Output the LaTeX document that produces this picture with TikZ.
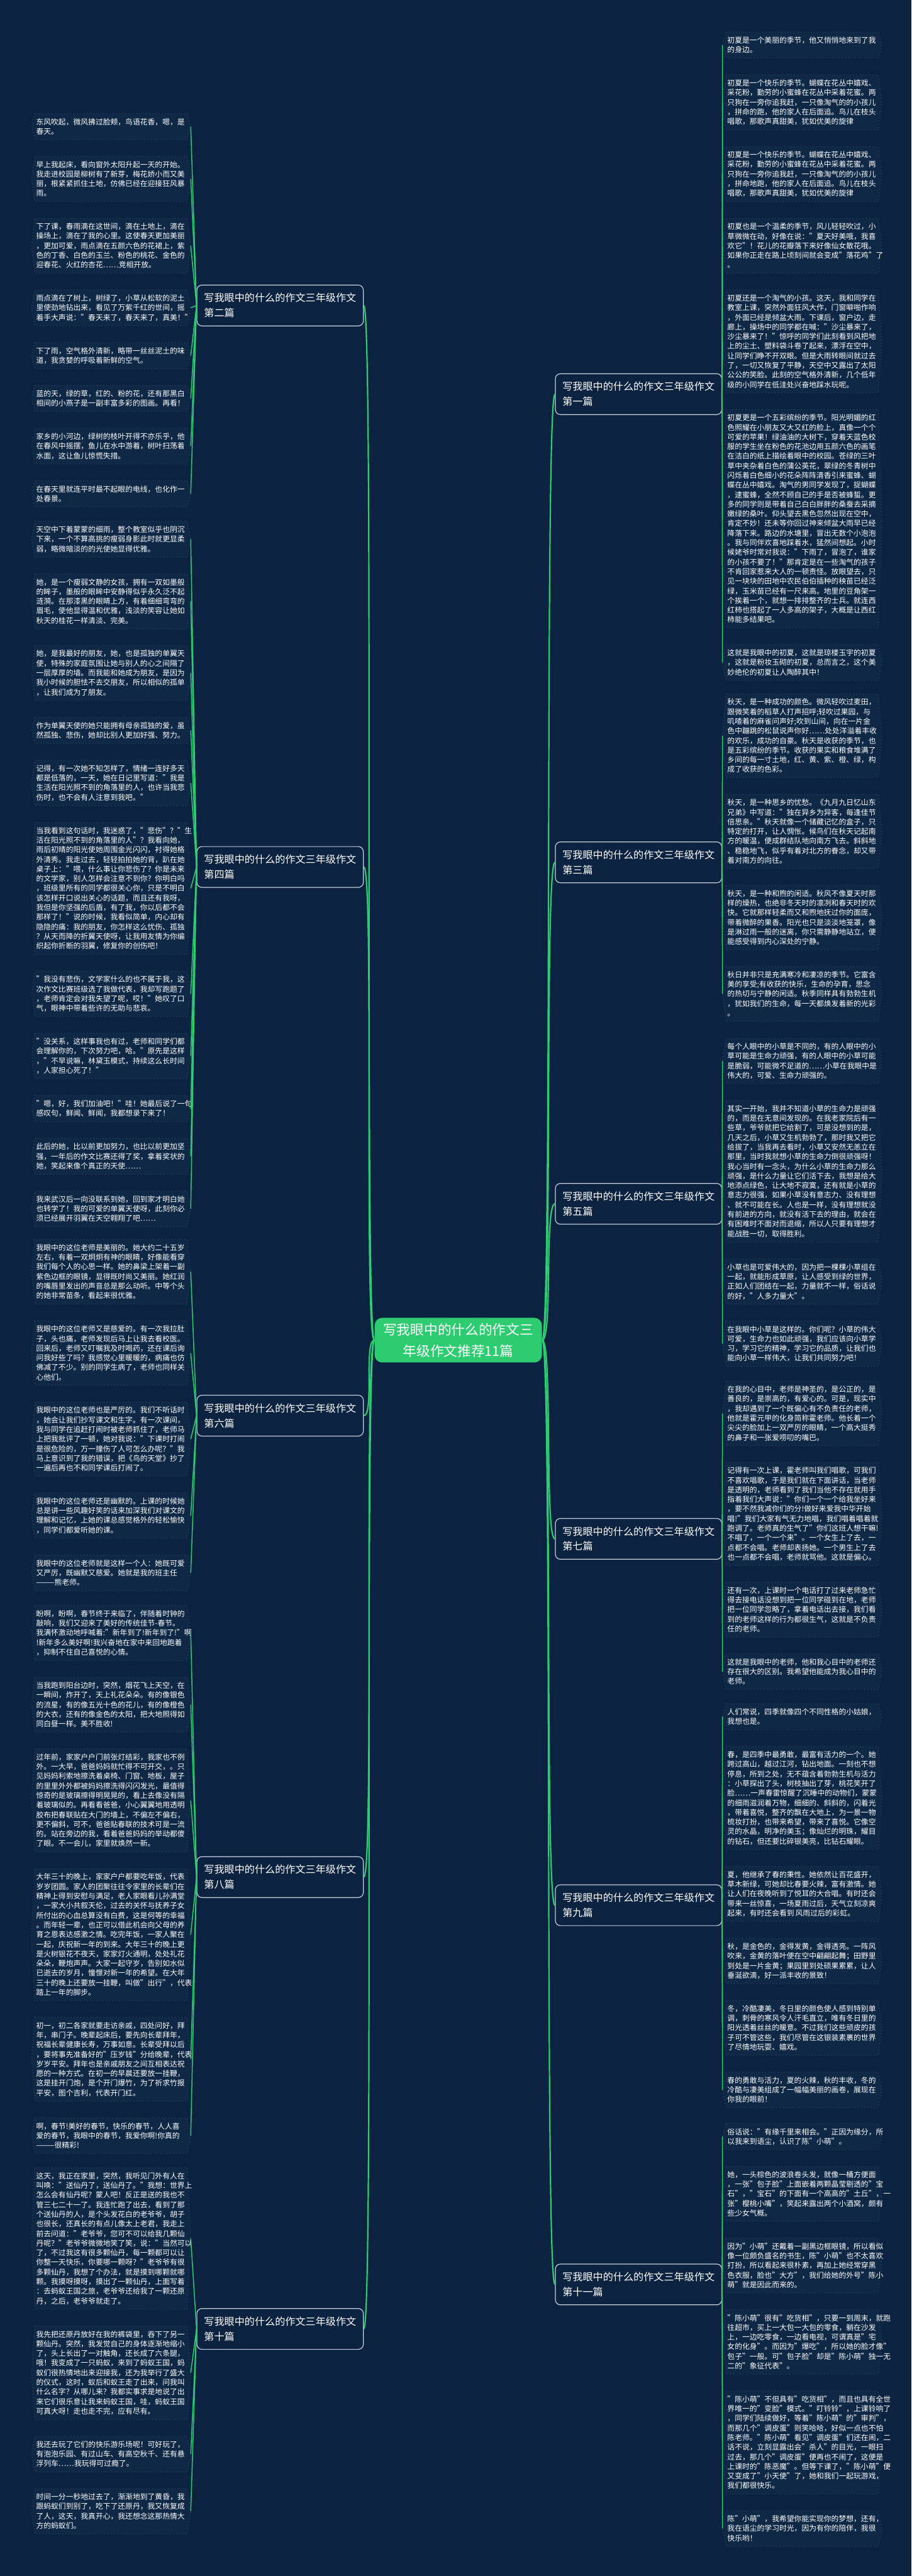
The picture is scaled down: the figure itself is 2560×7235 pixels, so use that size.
\documentclass[tikz,border=0pt]{standalone}
\usepackage{fontspec}
\setmainfont{Noto Sans CJK SC}
\usetikzlibrary{positioning, backgrounds}
\definecolor{bgcol}{HTML}{0B2341}
\definecolor{leafcol}{HTML}{0E2846}
\definecolor{edgecol}{HTML}{34475F}
\definecolor{linkcol}{HTML}{2ECC71}
\definecolor{rootcol}{HTML}{2ECC71}
\definecolor{framecol}{HTML}{C5CFDB}
\newcommand{\leaffont}{\fontsize{5.93pt}{7.68pt}\selectfont}
\newcommand{\branchfont}{\fontsize{8.1pt}{12pt}\selectfont}
\newcommand{\rootfont}{\fontsize{10.9pt}{17pt}\selectfont}

\begin{document}
\begin{tikzpicture}[
    x=0.01cm, y=-0.01cm,
    node distance=0.47cm,
    leaf/.style={
        font=\leaffont, text=white, text width=4.2cm, align=left,
        inner xsep=0.03cm, inner ysep=3.6pt
    },
    branch/.style={
        draw=framecol, fill=bgcol, rounded corners=4pt, line width=0.6pt,
        font=\branchfont, text=white, align=left, inner xsep=0.2cm, inner ysep=0.23cm
    },
    root/.style={
        fill=rootcol, rounded corners=6pt, font=\rootfont, text=white,
        align=center, inner xsep=0.24cm, inner ysep=0.15cm
    },
    twig/.style={draw=linkcol, line width=0.75pt},
    trunk/.style={draw=linkcol, line width=1.1pt},
    frame/.style={fill=leafcol, draw=edgecol, dotted, line width=0.6pt},
]
\useasboundingbox (0,0) rectangle (2560,7235);

% ── Centre and branches ──
\node[root] (root) at (1287,3764) {写我眼中的什么的作文三\\年级作文推荐11篇};

\node[branch, anchor=west] (b2)  at (552,858)  {写我眼中的什么的作文三年级作文\\第二篇};
\node[branch, anchor=west] (b4)  at (552,2435) {写我眼中的什么的作文三年级作文\\第四篇};
\node[branch, anchor=west] (b6)  at (552,3976) {写我眼中的什么的作文三年级作文\\第六篇};
\node[branch, anchor=west] (b8)  at (552,5272) {写我眼中的什么的作文三年级作文\\第八篇};
\node[branch, anchor=west] (b10) at (552,6541) {写我眼中的什么的作文三年级作文\\第十篇};

\node[branch, anchor=east] (b1)  at (2028,1107) {写我眼中的什么的作文三年级作文\\第一篇};
\node[branch, anchor=east] (b3)  at (2028,2422) {写我眼中的什么的作文三年级作文\\第三篇};
\node[branch, anchor=east] (b5)  at (2028,3381) {写我眼中的什么的作文三年级作文\\第五篇};
\node[branch, anchor=east] (b7)  at (2028,4322) {写我眼中的什么的作文三年级作文\\第七篇};
\node[branch, anchor=east] (b9)  at (2028,5351) {写我眼中的什么的作文三年级作文\\第九篇};
\node[branch, anchor=east] (b11) at (2028,6416) {写我眼中的什么的作文三年级作文\\第十一篇};

% ── Left leaves: 第二篇 ──
\node[leaf, anchor=north west] (l1) at (98,319)
    {东风吹起，微风拂过脸颊，鸟语花香，嗯，是\\春天。};
\node[leaf, below=of l1] (l2)
    {早上我起床，看向窗外太阳升起一天的开始。\\我走进校园是柳树有了新芽，梅花娇小而又美\\丽，根紧紧抓住土地，仿佛已经在迎接狂风暴\\雨。};
\node[leaf, below=of l2] (l3)
    {下了课，春雨滴在这世间，滴在土地上，滴在\\操场上，滴在了我的心里。这使春天更加美丽\\，更加可爱，雨点滴在五颜六色的花裙上，紫\\色的丁香、白色的玉兰、粉色的桃花、金色的\\迎春花、火红的杏花……竞相开放。};
\node[leaf, below=of l3] (l4)
    {雨点滴在了树上，树绿了，小草从松软的泥土\\里使劲地钻出来，看见了万紫千红的世间，摇\\着手大声说："春天来了，春天来了，真美！"};
\node[leaf, below=of l4] (l5)
    {下了雨，空气格外清新，略带一丝丝泥土的味\\道，我贪婪的呼吸着新鲜的空气。};
\node[leaf, below=of l5] (l6)
    {蓝的天，绿的草，红的、粉的花，还有那黑白\\相间的小燕子是一副丰富多彩的图画。再看！};
\node[leaf, below=of l6] (l7)
    {家乡的小河边，绿树的枝叶开得不亦乐乎，他\\在春风中摇摆，鱼儿在水中游着，树叶扫荡着\\水面，这让鱼儿惊慌失措。};
\node[leaf, below=of l7] (l8)
    {在春天里就连平时最不起眼的电线，也化作一\\处春景。};

% ── Left leaves: 第四篇 ──
\node[leaf, anchor=north west] (l9) at (98,1464)
    {天空中下着蒙蒙的细雨，整个教室似乎也阴沉\\下来，一个不算高挑的瘦弱身影此时就更显柔\\弱，略微暗淡的的光使她显得优雅。};
\node[leaf, below=of l9] (l10)
    {她，是一个瘦弱文静的女孩，拥有一双如墨般\\的眸子，墨般的眼眸中安静得似乎永久泛不起\\涟漪。在那漆黑的眼睛上方，有着细细弯弯的\\眉毛，使他显得温和优雅，浅淡的笑容让她如\\秋天的桂花一样清淡、完美。};
\node[leaf, below=of l10] (l11)
    {她，是我最好的朋友，她，也是孤独的单翼天\\使，特殊的家庭氛围让她与别人的心之间隔了\\一层厚厚的墙。而我能和她成为朋友，是因为\\我小时候的胆怯不去交朋友，所以相似的孤单\\，让我们成为了朋友。};
\node[leaf, below=of l11] (l12)
    {作为单翼天使的她只能拥有母亲孤独的爱，虽\\然孤独、悲伤，她却比别人更加好强、努力。};
\node[leaf, below=of l12] (l13)
    {记得，有一次她不知怎样了，情绪一连好多天\\都是低落的，一天，她在日记里写道："我是\\生活在阳光照不到的角落里的人，也许当我悲\\伤时，也不会有人注意到我吧。"};
\node[leaf, below=of l13] (l14)
    {当我看到这句话时，我迷惑了，"悲伤"？"生\\活在阳光照不到的角落里的人"？我看向她，\\雨后初晴的阳光使她周围金光闪闪，衬得她格\\外清秀。我走过去，轻轻拍拍她的背，趴在她\\桌子上："喂，什么事让你悲伤了？你是未来\\的文学家，别人怎样会注意不到你？你明白吗\\，班级里所有的同学都很关心你，只是不明白\\该怎样开口说出关心的话题，而且还有我呀，\\我但是你坚强的后盾，有了我，你以后都不会\\那样了！"说的时候，我看似简单，内心却有\\隐隐的痛：我的朋友，你怎样这么忧伤、孤独\\？从天而降的折翼天使呀，让我用友情为你编\\织起你折断的羽翼，修复你的创伤吧！};
\node[leaf, below=of l14] (l15)
    {"我没有悲伤，文学家什么的也不属于我，这\\次作文比赛班级选了我做代表，我却写跑题了\\，老师肯定会对我失望了呢，哎！"她叹了口\\气，眼神中带着些许的无助与悲哀。};
\node[leaf, below=of l15] (l16)
    {"没关系，这样事我也有过，老师和同学们都\\会理解你的，下次努力吧，哈。"原先是这样\\，"不早说嘛，林黛玉模式，持续这么长时间\\，人家担心死了！"};
\node[leaf, below=of l16] (l17)
    {"嗯，好，我们加油吧！"哇！她最后说了一句\\感叹句，鲜闻、鲜闻，我都想录下来了！};
\node[leaf, below=of l17] (l18)
    {此后的她，比以前更加努力，也比以前更加坚\\强，一年后的作文比赛还得了奖，拿着奖状的\\她，笑起来像个真正的天使……};
\node[leaf, below=of l18] (l19)
    {我来武汉后一向没联系到她，回到家才明白她\\也转学了！我的可爱的单翼天使呀，此刻你必\\须已经展开羽翼在天空翱翔了吧……};

% ── Left leaves: 第六篇 ──
\node[leaf, anchor=north west] (l20) at (98,3481)
    {我眼中的这位老师是美丽的。她大约二十五岁\\左右，有着一双炯炯有神的眼睛，好像能看穿\\我们每个人的心思一样。她的鼻梁上架着一副\\紫色边框的眼镜，显得既时尚又美丽。她红润\\的嘴唇里发出的声音总是那么动听。中等个头\\的她非常苗条，看起来很优雅。};
\node[leaf, below=of l20] (l21)
    {我眼中的这位老师又是慈爱的。有一次我拉肚\\子，头也痛，老师发现后马上让我去看校医。\\回来后，老师又叮嘱我及时喝药，还在课后询\\问我好些了吗？我感觉心里暖暖的，病痛也仿\\佛减了不少。别的同学生病了，老师也同样关\\心他们。};
\node[leaf, below=of l21] (l22)
    {我眼中的这位老师也是严厉的。我们不听话时\\，她会让我们抄写课文和生字。有一次课间，\\我与同学在追赶打闹时被老师抓住了，老师马\\上把我批评了一顿，她对我说："下课时打闹\\是很危险的，万一撞伤了人可怎么办呢？"我\\马上意识到了我的错误，把《鸟的天堂》抄了\\一遍后再也不和同学课后打闹了。};
\node[leaf, below=of l22] (l23)
    {我眼中的这位老师还是幽默的。上课的时候她\\总是讲一些风趣好笑的话来加深我们对课文的\\理解和记忆，上她的课总感觉格外的轻松愉快\\，同学们都爱听她的课。};
\node[leaf, below=of l23] (l24)
    {我眼中的这位老师就是这样一个人：她既可爱\\又严厉，既幽默又慈爱。她就是我的班主任\\———熊老师。};

% ── Left leaves: 第八篇 ──
\node[leaf, anchor=north west] (l25) at (98,4509)
    {盼啊，盼啊，春节终于来临了，伴随着时钟的\\敲响，我们又迎来了美好的传统佳节-春节。\\我满怀激动地呼喊着:"新年到了!新年到了!"啊\\!新年多么美好啊!我兴奋地在家中来回地跑着\\，抑制不住自己喜悦的心情。};
\node[leaf, below=of l25] (l26)
    {当我跑到阳台边时，突然，烟花飞上天空，在\\一瞬间，炸开了，天上礼花朵朵。有的像银色\\的流星，有的像五光十色的花儿，有的像橙色\\的大衣，还有的像金色的太阳，把大地照得如\\同白昼一样。美不胜收!};
\node[leaf, below=of l26] (l27)
    {过年前，家家户户门前张灯结彩，我家也不例\\外。一大早，爸爸妈妈就忙得不可开交，。只\\见妈妈利索地擦洗着桌椅、门窗、地板，屋子\\的里里外外都被妈妈擦洗得闪闪发光，最值得\\惊奇的是玻璃擦得明晃晃的，看上去像没有隔\\着玻璃似的。再看看爸爸，小心翼翼地用透明\\胶布把春联贴在大门的墙上，不偏左不偏右，\\更不偏斜，可不，爸爸贴春联的技术可是一流\\的。站在旁边的我，看着爸爸妈妈的举动都傻\\了眼。不一会儿，家里就焕然一新。};
\node[leaf, below=of l27] (l28)
    {大年三十的晚上，家家户户都要吃年饭，代表\\岁岁团圆。家人的团聚往往令家里的长辈们在\\精神上得到安慰与满足，老人家眼看儿孙满堂\\，一家大小共叙天伦，过去的关怀与抚养子女\\所付出的心血总算没有白费，这是何等的幸福\\。而年轻一辈，也正可以借此机会向父母的养\\育之恩表达感激之情。吃完年饭，一家人聚在\\一起，庆祝新一年的到来。大年三十的晚上更\\是火树银花不夜天，家家灯火通明，处处礼花\\朵朵，鞭炮声声。大家一起守岁，告别如水似\\已逝去的岁月，憧憬对新一年的希望。在大年\\三十的晚上还要放一挂鞭，叫做"出行"，代表\\踏上一年的脚步。};
\node[leaf, below=of l28] (l29)
    {初一，初二各家就要走访亲戚，四处问好，拜\\年，串门子。晚辈起床后，要先向长辈拜年，\\祝福长辈健康长寿，万事如意。长辈受拜以后\\，要将事先准备好的"压岁钱"分给晚辈，代表\\岁岁平安。拜年也是亲戚朋友之间互相表达祝\\愿的一种方式。在初一的早晨还要放一挂鞭，\\这是挂开门炮，是个开门爆竹，为了祈求竹报\\平安，图个吉利，代表开门红。};
\node[leaf, below=of l29] (l30)
    {啊，春节!美好的春节，快乐的春节，人人喜\\爱的春节，我眼中的春节，我爱你啊!你真的\\———很精彩!};

% ── Left leaves: 第十篇 ──
\node[leaf, anchor=north west] (l31) at (98,6088)
    {这天，我正在家里，突然，我听见门外有人在\\叫唤："送仙丹了，送仙丹了。"我想：世界上\\怎么会有仙丹呢？蒙人吧！反正是送的我也不\\管三七二十一了。我连忙跑了出去，看到了那\\个送仙丹的人，是个头发花白的老爷爷，胡子\\也很长，还真长的有点儿像太上老君，我走上\\前去问道："老爷爷，您可不可以给我几颗仙\\丹呢？"老爷爷微微地笑了笑，说："当然可以\\了，不过我这有很多颗仙丹，每一颗都可以让\\你整一天快乐，你要哪一颗呀？"老爷爷有很\\多颗仙丹，我想了个办法，就是摸到哪颗就哪\\颗。我摸呀摸呀，摸出了一颗仙丹，上面写着\\：去蚂蚁王国之旅，老爷爷还给我了一颗还原\\丹，之后，老爷爷就走了。};
\node[leaf, below=of l31] (l32)
    {我先把还原丹放好在我的裤袋里，吞下了另一\\颗仙丹。突然，我发觉自己的身体逐渐地缩小\\了，头上长出了一对触角，还长成了六条腿，\\哦！我变成了一只蚂蚁，来到了蚂蚁王国，蚂\\蚁们很热情地出来迎接我，还为我举行了盛大\\的仪式，这时，蚁后和蚁王走了出来，问我叫\\什么名字？从哪儿来？我都实事求是地说了出\\来它们很乐意让我来蚂蚁王国，哇，蚂蚁王国\\可真大呀！走也走不完，应有尽有。};
\node[leaf, below=of l32] (l33)
    {我还去玩了它们的快乐游乐场呢！可好玩了，\\有泡泡乐园、有过山车、有高空秋千、还有悬\\浮列车……我玩得可过瘾了。};
\node[leaf, below=of l33] (l34)
    {时间一分一秒地过去了，渐渐地到了黄昏，我\\跟蚂蚁们到别了，吃下了还原丹，我又恢复成\\了人，这天，我真开心，我还想念这那热情大\\方的蚂蚁们。};

% ── Right leaves: 第一篇 ──
\node[leaf, anchor=north west] (r1) at (2039,90)
    {初夏是一个美丽的季节，他又悄悄地来到了我\\的身边。};
\node[leaf, below=of r1] (r2)
    {初夏是一个快乐的季节。蝴蝶在花丛中嬉戏、\\采花粉，勤劳的小蜜蜂在花丛中采着花蜜。两\\只狗在一旁你追我赶，一只像淘气的的小孩儿\\，拼命的跑，他的家人在后面追。鸟儿在枝头\\唱歌，那歌声真甜美，犹如优美的旋律};
\node[leaf, below=of r2] (r3)
    {初夏是一个快乐的季节。蝴蝶在花丛中嬉戏、\\采花粉，勤劳的小蜜蜂在花丛中采着花蜜。两\\只狗在一旁你追我赶，一只像淘气的的小孩儿\\，拼命地跑，他的家人在后面追。鸟儿在枝头\\唱歌，那歌声真甜美，犹如优美的旋律};
\node[leaf, below=of r3] (r4)
    {初夏也是一个温柔的季节，风儿轻轻吹过，小\\草微微在动，好像在说："夏天好美哦，我喜\\欢它"！花儿的花瓣落下来好像仙女散花哦。\\如果你正走在路上顷刻间就会变成"落花鸡"了\\。};
\node[leaf, below=of r4] (r5)
    {初夏还是一个淘气的小孩。这天，我和同学在\\教室上课，突然外面狂风大作，门窗噼啪作响\\，外面已经是倾盆大雨。下课后，窗户边，走\\廊上，操场中的同学都在喊："沙尘暴来了，\\沙尘暴来了！"惊呼的同学们此刻看到风把地\\上的尘土、塑料袋斗卷了起来，漂浮在空中，\\让同学们睁不开双眼。但是大雨转眼间就过去\\了，一切又恢复了平静，天空中又露出了太阳\\公公的笑脸。此刻的空气格外清新，几个低年\\级的小同学在低洼处兴奋地踩水玩呢。};
\node[leaf, below=of r5] (r6)
    {初夏更是一个五彩缤纷的季节。阳光明媚的红\\色照耀在小朋友又大又红的脸上，真像一个个\\可爱的苹果！绿油油的大树下，穿着天蓝色校\\服的学生坐在粉色的花池边用五颜六色的画笔\\在洁白的纸上描绘着眼中的校园。苍绿的三叶\\草中夹杂着白色的蒲公英花，翠绿的冬青树中\\闪烁着白色细小的花朵阵阵清香引来蜜蜂、蝴\\蝶在丛中嬉戏。淘气的男同学发现了，捉蝴蝶\\，逮蜜蜂，全然不顾自己的手是否被蜂蜇。更\\多的同学则是带着自己白白胖胖的桑蚕去采摘\\嫩绿的桑叶。仰头望去黑色忽然出现在空中，\\肯定不妙！还未等你回过神来倾盆大雨早已经\\降落下来。路边的水塘里，冒出无数个小泡泡\\。我与同伴欢喜地踩着水，猛然间想起。小时\\候姥爷时常对我说："下雨了，冒泡了，谁家\\的小孩不要了！"那肯定是在一些淘气的孩子\\不肯回家惹来大人的一顿责怪。放眼望去，只\\见一块块的田地中农民伯伯插种的秧苗已经泛\\绿，玉米苗已经有一尺来高。地里的豆角架一\\个挨着一个，就想一排排整齐的士兵。就连西\\红柿也搭起了一人多高的架子，大概是让西红\\柿能多结果吧。};
\node[leaf, below=of r6] (r7)
    {这就是我眼中的初夏，这就是琼楼玉宇的初夏\\，这就是粉妆玉砌的初夏，总而言之，这个美\\妙绝伦的初夏让人陶醉其中！};

% ── Right leaves: 第三篇 ──
\node[leaf, anchor=north west] (r8) at (2039,1949)
    {秋天，是一种成功的颜色。微风轻吹过麦田，\\跟微笑着的稻草人打声招呼;轻吹过果园，与\\叽喳着的麻雀问声好;吹到山间，向在一片金\\色中蹦跳的松鼠说声你好……处处洋溢着丰收\\的欢乐，成功的自豪。秋天是收获的季节，也\\是五彩缤纷的季节。收获的果实和粮食堆满了\\乡间的每一寸土地，红、黄、紫、橙、绿，构\\成了收获的色彩。};
\node[leaf, below=of r8] (r9)
    {秋天，是一种思乡的忧愁。《九月九日忆山东\\兄弟》中写道："独在异乡为异客，每逢佳节\\倍思亲。"秋天就像一个储藏记忆的盒子，只\\特定的打开，让人惆怅。候鸟们在秋天记起南\\方的暖温，便成群结队地向南方飞去。斜斜地\\、稳稳地飞，似乎有着对北方的眷念，却又带\\着对南方的向往。};
\node[leaf, below=of r9] (r10)
    {秋天，是一种和煦的闲适。秋风不像夏天时那\\样的燥热，也绝非冬天时的凛冽和春天时的欢\\快。它就那样轻柔而又和煦地抚过你的面庞，\\带着微醉的果香。阳光也只是淡淡地笼罩，像\\是淋过雨一般的迷离，你只需静静地站立，便\\能感受得到内心深处的宁静。};
\node[leaf, below=of r10] (r11)
    {秋日并非只是充满寒冷和凄凉的季节。它富含\\美的享受;有收获的快乐，生命的孕育，思念\\的热切与宁静的闲适。秋季同样具有勃勃生机\\，犹如我们的生命，每一天都焕发着新的光彩\\。};

% ── Right leaves: 第五篇 ──
\node[leaf, anchor=north west] (r12) at (2039,2916)
    {每个人眼中的小草是不同的，有的人眼中的小\\草可能是生命力顽强，有的人眼中的小草可能\\是脆弱，可能微不足道的……小草在我眼中是\\伟大的，可爱、生命力顽强的。};
\node[leaf, below=of r12] (r13)
    {其实一开始，我并不知道小草的生命力是顽强\\的，而是在无意间发现的。在我老家院后有一\\些草，爷爷就把它给割了，可是没想到的是，\\几天之后，小草又生机勃勃了，那时我又把它\\给拔了，当我再去看时，小草又安然无恙立在\\那里，当时我就想小草的生命力倒很顽强呀！\\我心当时有一念头，为什么小草的生命力那么\\顽强，是什么力量让它们活下去，我想是给大\\地添点绿色，让大地不寂寞，还有就是小草的\\意志力很强，如果小草没有意志力、没有理想\\、就不可能在长。人也是一样，没有理想就没\\有前进的方向，就没有活下去的理由，就会在\\有困难时不面对而退缩，所以人只要有理想才\\能战胜一切，取得胜利。};
\node[leaf, below=of r13] (r14)
    {小草也是可爱伟大的，因为把一棵棵小草组在\\一起，就能形成草原，让人感受到绿的世界，\\正如人们团结在一起，力量就不一样，俗话说\\的好，"人多力量大"。};
\node[leaf, below=of r14] (r15)
    {在我眼中小草是这样的。你们呢？小草的伟大\\可爱，生命力也如此顽强，我们应该向小草学\\习，学习它的精神，学习它的品质，让我们也\\能向小草一样伟大，让我们共同努力吧！};

% ── Right leaves: 第七篇 ──
\node[leaf, anchor=north west] (r16) at (2039,3879)
    {在我的心目中，老师是神圣的，是公正的，是\\善良的，是崇高的，有爱心的。可是，现实中\\，我却遇到了一个既偏心有不负责任的老师，\\他就是霍元甲的化身简称霍老师。他长着一个\\尖尖的脸加上一双严厉的眼睛，一个高大挺秀\\的鼻子和一张爱唠叨的嘴巴。};
\node[leaf, below=of r16] (r17)
    {记得有一次上课，霍老师叫我们唱歌，可我们\\不喜欢唱歌，于是我们就在下面讲话，当老师\\是透明的，老师看到了我们当他不存在就用手\\指着我们大声说："你们一个一个给我坐好来\\，要不然我减你们的分!做好来爱我中华开始\\唱!"我们大家有气无力地唱，我们唱着唱着就\\跑调了。老师真的生气了"你们这班人想干嘛!\\不唱了，一个一个来"。一个女生上了去，一\\点都不会唱。老师却表扬她。一个男生上了去\\也一点都不会唱，老师就骂他。这就是偏心。};
\node[leaf, below=of r17] (r18)
    {还有一次，上课时一个电话打了过来老师急忙\\得去接电话没想到把一位同学碰到在地，老师\\把一位同学忽略了，拿着电话出去接，我们看\\到的老师这样的行为都很生气，这就是不负责\\任的老师。};
\node[leaf, below=of r18] (r19)
    {这就是我眼中的老师，他和我心目中的老师还\\存在很大的区别。我希望他能成为我心目中的\\老师。};

% ── Right leaves: 第九篇 ──
\node[leaf, anchor=north west] (r20) at (2039,4785)
    {人们常说，四季就像四个不同性格的小姑娘，\\我想也是。};
\node[leaf, below=of r20] (r21)
    {春，是四季中最勇敢，最富有活力的一个。她\\跨过高山，越过江河，钻出地面。一刻也不想\\停息，所到之处，无不蕴含着勃勃生机与活力\\：小草探出了头，树枝抽出了芽，桃花笑开了\\脸……一声春雷惊醒了沉睡中的动物们，蒙蒙\\的细雨滋润着万物，细细的、斜斜的，闪着光\\，带着喜悦，整齐的飘在大地上，为一景一物\\梳妆打扮，也带来希望，带来了喜悦。它像空\\灵的水晶，明净的美玉；像灿烂的明珠，耀目\\的钻石，但还要比碎银美亮，比钻石耀眼。};
\node[leaf, below=of r21] (r22)
    {夏，他继承了春的秉性。她依然让百花盛开，\\草木新绿，可她却比春要火辣，富有激情。她\\让人们在夜晚听到了悦耳的大合唱。有时还会\\带来一丝惊喜，一场夏雨过后，天气立刻凉爽\\起来，有时还会看到\,风雨过后的彩虹。};
\node[leaf, below=of r22] (r23)
    {秋，是金色的，金得发黄，金得透亮。一阵风\\吹来，金黄的落叶便在空中翩翩起舞；田野里\\到处是一片金黄；果园里到处硕果累累，让人\\垂涎欲滴，好一派丰收的景致！};
\node[leaf, below=of r23] (r24)
    {冬，冷酷凄美，冬日里的颜色使人感到特别单\\调，刺骨的寒风令人汗毛直立，唯有冬日里的\\阳光透着丝丝的暖意。不过我们这些顽皮的孩\\子可不管这些，我们尽管在这银装素裹的世界\\了尽情地玩耍、嬉戏。};
\node[leaf, below=of r24] (r25)
    {春的勇敢与活力，夏的火辣，秋的丰收，冬的\\冷酷与凄美组成了一幅幅美丽的画卷，展现在\\你我的眼前！};

% ── Right leaves: 第十一篇 ──
\node[leaf, anchor=north west] (r26) at (2039,5964)
    {俗话说："有缘千里来相会。"正因为缘分，所\\以我来到语尘，认识了陈"小萌"。};
\node[leaf, below=of r26] (r27)
    {她，一头棕色的波浪卷头发，就像一桶方便面\\，一张"包子脸"上面嵌着两颗晶莹剔透的"宝\\石"，"宝石"的下面有一个高高的"土丘"，一\\张"樱桃小嘴"，笑起来露出两个小酒窝，颇有\\些少女气概。};
\node[leaf, below=of r27] (r28)
    {因为"小萌"还戴着一副黑边框眼镜，所以看似\\像一位颇负盛名的书生，陈"小萌"也不太喜欢\\打扮，所以看起来很朴素，再加上她经常穿黑\\色衣服，脸也"大方"，我们给她的外号"陈小\\萌"就是因此而来的。};
\node[leaf, below=of r28] (r29)
    {"陈小萌"很有"吃货相"，只要一到周末，就跑\\往超市，买上一大包一大包的零食，躺在沙发\\上，一边吃零食，一边看电视，可谓真是"宅\\女的化身"。而因为"爆吃"，所以她的脸才像"\\包子"一般。可"包子脸"却是"陈小萌"独一无\\二的"象征代表"。};
\node[leaf, below=of r29] (r30)
    {"陈小萌"不但具有"吃货相"，而且也具有全世\\界唯一的"变脸"模式。"叮铃铃"，上课铃响了\\，同学们陆续做好，等着"陈小萌"的"审判"，\\而那几个"调皮蛋"则笑哈哈，好似一点也不怕\\陈老师。"陈小萌"看见"调皮蛋"们还在闹，二\\话不说，立刻显露出会"杀人"的目光，一眼扫\\过去，那几个"调皮蛋"便再也不闹了，这便是\\上课时的"陈恶魔"。但等下课了，"陈小萌"便\\又变成了"小天使"了，她和我们一起玩游戏，\\我们都很快乐。};
\node[leaf, below=of r30] (r31)
    {陈"小萌"，我希望你能实现你的梦想，还有，\\我在语尘的学习时光，因为有你的陪伴，我很\\快乐哟！};

% ── Background and leaf frames ──
\begin{scope}[on background layer]
    \fill[bgcol] (0,0) rectangle (2560,7235);
    \foreach \n in {1,...,34}
        \draw[frame] (l\n.north west) -- (l\n.north east) -- ([xshift=0.1cm]l\n.east)
            -- (l\n.south east) -- (l\n.south west) -- ([xshift=-0.1cm]l\n.west) -- cycle;
    \foreach \n in {1,...,31}
        \draw[frame] (r\n.north west) -- (r\n.north east) -- ([xshift=0.1cm]r\n.east)
            -- (r\n.south east) -- (r\n.south west) -- ([xshift=-0.1cm]r\n.west) -- cycle;
\end{scope}

% ── Root to branches ──
\foreach \b in {b2,b4,b6,b8,b10}
    \draw[trunk] (root.west) .. controls +(-30,0) and +(30,0) .. (\b.east);
\foreach \b in {b1,b3,b5,b7,b9,b11}
    \draw[trunk] (root.east) .. controls +(30,0) and +(-30,0) .. (\b.west);

% ── Branches to leaves ──
\foreach \n in {1,...,8}   \draw[twig] (b2.west)  -- ([xshift=0.1cm]l\n.east);
\foreach \n in {9,...,19}  \draw[twig] (b4.west)  -- ([xshift=0.1cm]l\n.east);
\foreach \n in {20,...,24} \draw[twig] (b6.west)  -- ([xshift=0.1cm]l\n.east);
\foreach \n in {25,...,30} \draw[twig] (b8.west)  -- ([xshift=0.1cm]l\n.east);
\foreach \n in {31,...,34} \draw[twig] (b10.west) -- ([xshift=0.1cm]l\n.east);

\foreach \n in {1,...,7}   \draw[twig] (b1.east)  -- ([xshift=-0.1cm]r\n.west);
\foreach \n in {8,...,11}  \draw[twig] (b3.east)  -- ([xshift=-0.1cm]r\n.west);
\foreach \n in {12,...,15} \draw[twig] (b5.east)  -- ([xshift=-0.1cm]r\n.west);
\foreach \n in {16,...,19} \draw[twig] (b7.east)  -- ([xshift=-0.1cm]r\n.west);
\foreach \n in {20,...,25} \draw[twig] (b9.east)  -- ([xshift=-0.1cm]r\n.west);
\foreach \n in {26,...,31} \draw[twig] (b11.east) -- ([xshift=-0.1cm]r\n.west);

\end{tikzpicture}
\end{document}
